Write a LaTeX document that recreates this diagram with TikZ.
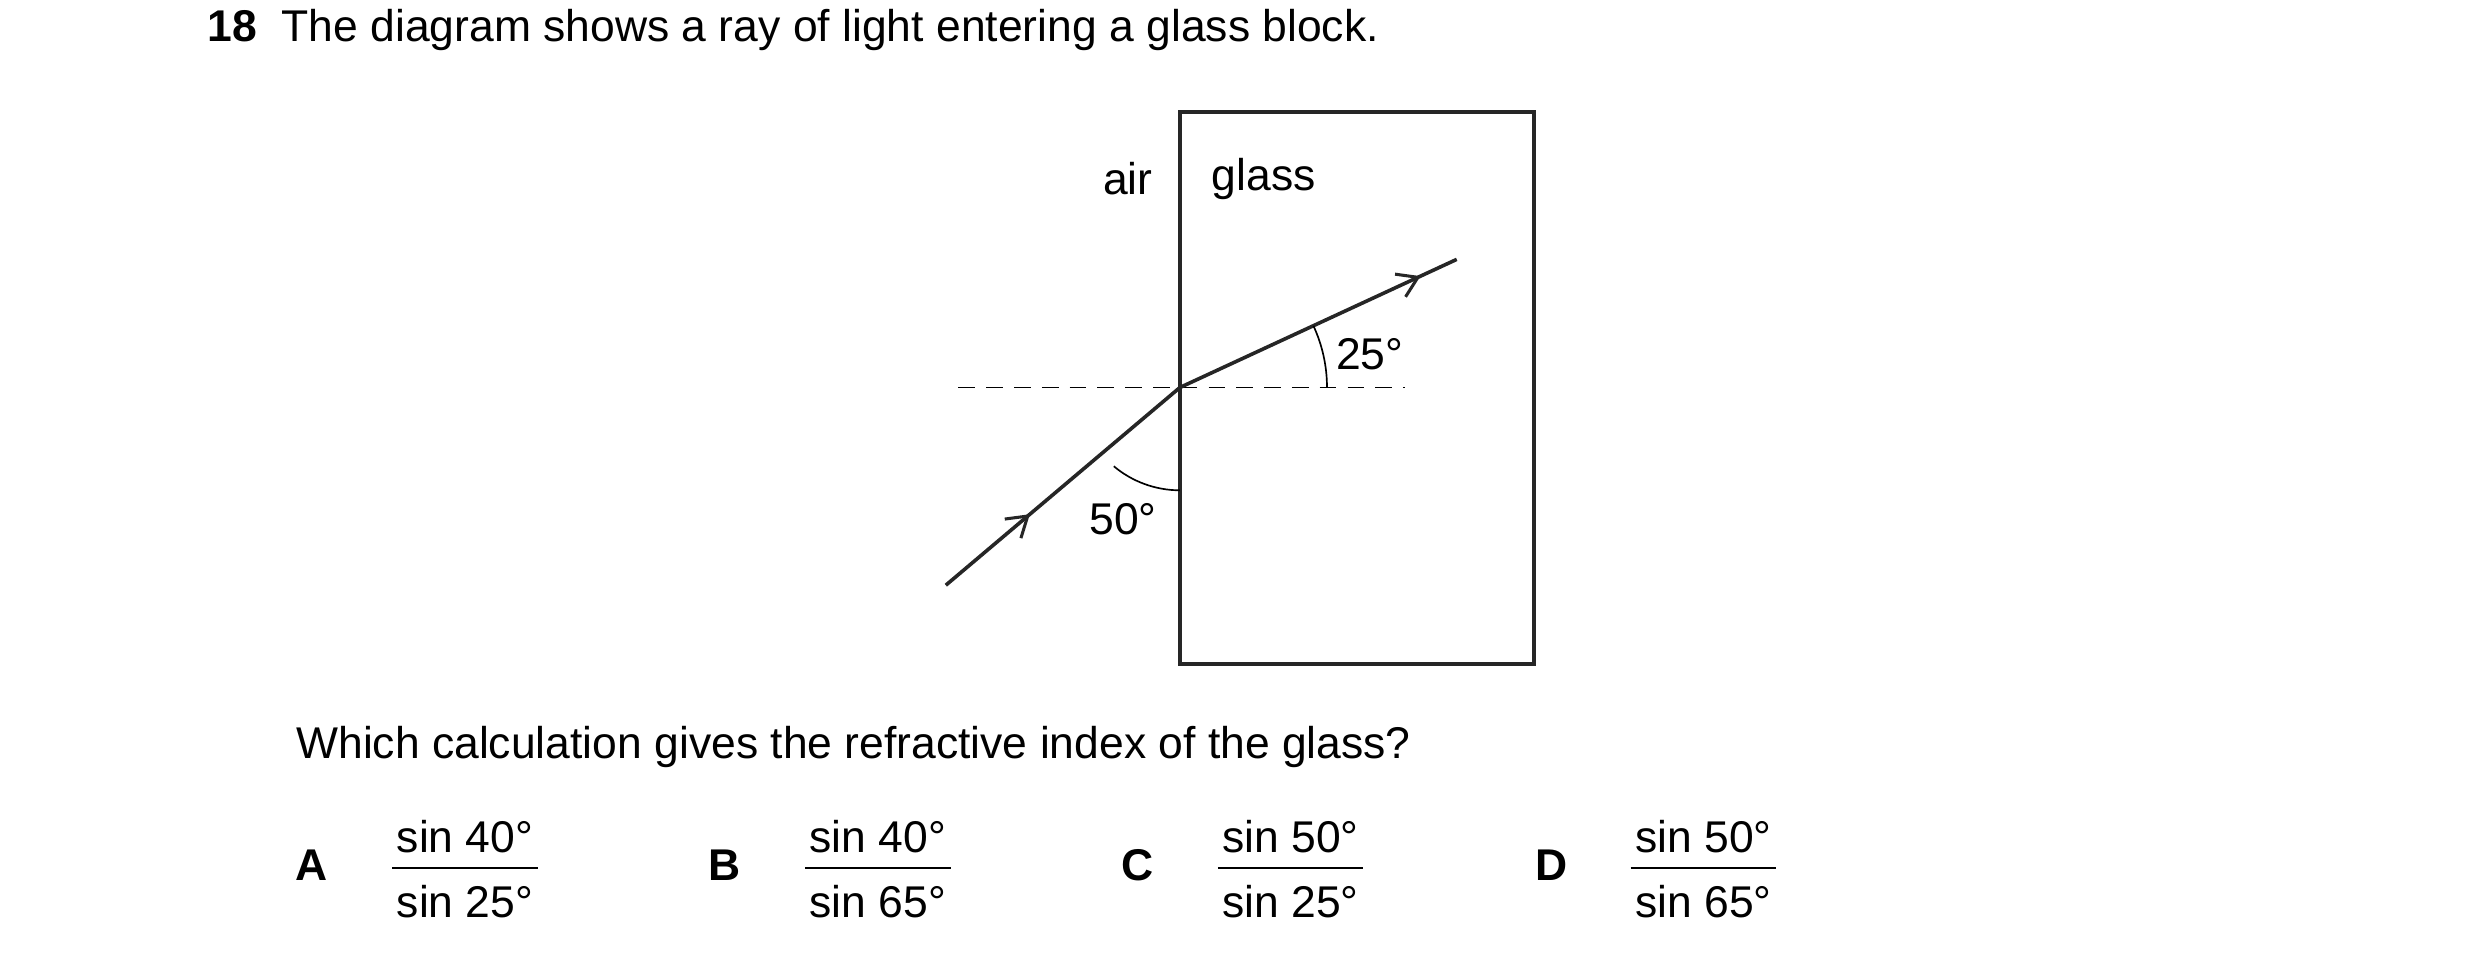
\documentclass[tikz,border=0pt]{standalone}
\usepackage{fontspec}
\setmainfont{Liberation Sans}
\usetikzlibrary{arrows.meta,decorations.markings}
\begin{document}
\begin{tikzpicture}[x=0.02cm,y=-0.02cm,
  txt/.style={inner sep=0pt,font=\fontsize{16}{19}\selectfont},
  ln/.style={line width=1.3pt,color=black!85},
  mid/.style={postaction={decorate},decoration={markings,mark=at position #1 with {\arrow{Straight Barb[length=7pt,width=9pt,line width=1.1pt]}}}}]
\useasboundingbox (0,0) rectangle (1568,605);
\draw[ln] (746,71) rectangle (970,420);
\coordinate (s) at (598,370);
\coordinate (p) at (746,245);
\coordinate (e) at (921,164);
\coordinate (nl) at (606,245);
\coordinate (nr) at (888,245);
\draw[dash pattern=on 6pt off 4pt,line width=0.6pt] (nl) -- (nr);
\draw[ln,mid=0.36] (s) -- (p);
\draw[ln,mid=0.87] (p) -- (e);
\draw[line width=0.6pt] (746,310) arc[start angle=90,end angle=130,radius=65];
\draw[line width=0.6pt] (839,245) arc[start angle=0,end angle=-24.8,radius=93];
\node[txt] (air) at (713,113) {air};
\node[txt] (glass) at (799,113) {glass};
\node[txt] (a25) at (866,224) {25°};
\node[txt] (a50) at (710,328) {50°};
\node[txt,anchor=west] (q) at (131,19) {\textbf{18}\hspace{0.55em}The diagram shows a ray of light entering a glass block.};
\node[txt,anchor=west] (w) at (187,472) {Which calculation gives the refractive index of the glass?};
\foreach \L/\lx/\fx/\t/\b in {A/197/294/40/25,B/458/555/40/65,C/719/816/50/25,D/981/1077/50/65}{
  \node[txt,font=\fontsize{16}{19}\selectfont\bfseries] (l\L) at (\lx,547) {\L};
  \node[txt] (t\L) at (\fx,529) {sin \t°};
  \node[txt] (b\L) at (\fx,570) {sin \b°};
  \draw[line width=0.7pt] (\fx-46,549) -- (\fx+46,549);
}
\end{tikzpicture}
\end{document}
